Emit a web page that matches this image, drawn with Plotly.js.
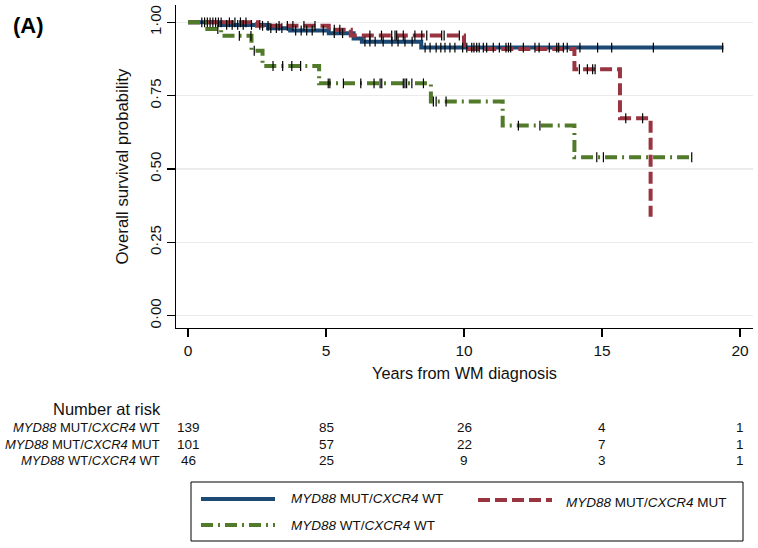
<!DOCTYPE html>
<html>
<head>
<meta charset="utf-8">
<script src="https://cdn.plot.ly/plotly-3.0.1.min.js"></script>
<style>
  html, body { margin: 0; padding: 0; background: #ffffff; }
  #chart { width: 758px; height: 548px; }
</style>
</head>
<body>
<div id="chart"></div>
<script>
// ---------------- data ----------------
const seriesNames = [
  "<i>MYD88</i> MUT/<i>CXCR4</i> WT",
  "<i>MYD88</i> MUT/<i>CXCR4</i> MUT",
  "<i>MYD88</i> WT/<i>CXCR4</i> WT"
];

// Kaplan-Meier step curves (time in years, survival probability)
const mutWtTimes = [0, 1.2, 2.9, 3.7, 5.1, 6.0, 6.3, 8.45, 19.4];
const mutWtSurv  = [1, 0.991, 0.98, 0.972, 0.963, 0.945, 0.934, 0.914, 0.914];
const mutWtCens  = [0.5, 0.7, 0.9, 1.1, 1.4, 1.6, 1.8, 2.0, 2.3, 2.6, 3.0, 3.2, 3.4, 3.9, 4.1, 4.3, 4.5, 4.9, 5.3, 5.6,
                    6.41, 6.59, 6.78, 7.07, 7.39, 7.61, 7.86, 8.12,
                    8.59, 8.77, 8.99, 9.16, 9.31, 9.49, 9.67, 9.95, 10.10, 10.28, 10.36, 10.46, 10.55, 10.70, 10.82,
                    11.06, 11.28, 11.52, 11.61, 11.69, 12.15, 12.57, 12.72, 13.09, 13.36, 13.43, 13.60, 13.74,
                    14.20, 14.84, 15.35, 16.86, 19.37];

const mutMutTimes = [0, 2.5, 5.1, 5.9, 10.0, 14.0, 15.65, 16.76];
const mutMutSurv  = [1, 0.988, 0.975, 0.955, 0.909, 0.84, 0.673, 0.337];
const mutMutCens  = [0.6, 0.8, 1.0, 1.2, 1.5, 1.7, 1.9, 2.1, 2.7, 2.9, 3.3, 3.6, 3.8, 4.2, 4.6, 5.3, 5.5,
                     6.59, 7.01, 7.38, 7.5, 7.56, 7.80, 8.22, 8.47, 8.65, 9.19, 9.28, 9.83,
                     14.18, 14.47, 14.66, 14.75, 15.86, 16.47];

const wtWtTimes = [0, 0.7, 1.2, 2.3, 2.7, 4.75, 8.8, 11.4, 14.0, 18.3];
const wtWtSurv  = [1, 0.977, 0.954, 0.903, 0.851, 0.792, 0.730, 0.648, 0.54, 0.54];
const wtWtCens  = [1.08, 1.86, 2.28, 2.4, 3.08, 3.43, 3.76, 4.08, 5.08, 5.14, 5.63, 6.26, 6.74, 6.96, 7.02,
                   7.80, 7.86, 7.92, 8.11, 8.53, 8.89, 8.99, 9.35, 11.97, 12.75, 14.81, 15.05, 18.25];

// Number at risk table
const riskYears  = [0, 5, 10, 15, 20];
const riskMutWt  = [139, 85, 26, 4, 1];
const riskMutMut = [101, 57, 22, 7, 1];
const riskWtWt   = [46, 25, 9, 3, 1];

// Axis ticks
const yTickVals = [0, 0.25, 0.5, 0.75, 1];
const yTickText = ["0·00", "0·25", "0·50", "0·75", "1·00"];
const xTickVals = [0, 5, 10, 15, 20];

// ---------------- styling ----------------
const colors = ["#1d4a74", "#983540", "#527a2b"];
const dashes = ["solid", "12px,5px", "12px,5px,2px,5px"];
const FONT = "'Liberation Sans', Arial, sans-serif";
const TXT = "#111111";

const W = 758, H = 548;
const M = { l: 176, r: 5, t: 5, b: 220 };
const PW = W - M.l - M.r, PH = H - M.t - M.b;
const pxX = p => (p - M.l) / PW;          // pixel x -> paper
const pxY = p => (H - M.b - p) / PH;      // pixel y -> paper

function stepAt(times, surv, t) {
  let v = surv[0];
  for (let i = 0; i < times.length; i++) { if (times[i] <= t) v = surv[i]; }
  return v;
}

const groups = [
  { t: mutWtTimes, s: mutWtSurv, c: mutWtCens },
  { t: mutMutTimes, s: mutMutSurv, c: mutMutCens },
  { t: wtWtTimes, s: wtWtSurv, c: wtWtCens }
];

const traces = [];
groups.forEach((g, i) => {
  traces.push({
    type: "scatter", mode: "lines", x: g.t, y: g.s, name: seriesNames[i],
    line: { shape: "hv", color: colors[i], width: 4, dash: dashes[i] },
    hoverinfo: "skip", showlegend: false
  });
});
groups.forEach((g, i) => {
  traces.push({
    type: "scatter", mode: "markers", x: g.c, y: g.c.map(t => stepAt(g.t, g.s, t)),
    marker: { symbol: "line-ns", size: 7, color: "#000000", line: { color: "#000000", width: 1.2 } },
    hoverinfo: "skip", showlegend: false
  });
});

// ---------------- annotations ----------------
const annotations = [];
annotations.push({
  xref: "paper", yref: "paper", x: pxX(28), y: pxY(25), xanchor: "center", yanchor: "middle",
  text: "<b>(A)</b>", showarrow: false, font: { family: FONT, size: 22, color: "#000" }
});
annotations.push({
  xref: "paper", yref: "paper", x: pxX(163), y: pxY(409), xanchor: "right", yanchor: "middle",
  text: "Number at risk", showarrow: false, font: { family: FONT, size: 16.5, color: TXT }
});
const riskRows = [riskMutWt, riskMutMut, riskWtWt];
const rowY = [427, 444, 461];
riskRows.forEach((row, r) => {
  annotations.push({
    xref: "paper", yref: "paper", x: pxX(162), y: pxY(rowY[r]), xanchor: "right", yanchor: "middle",
    text: seriesNames[r], showarrow: false, font: { family: FONT, size: 13, color: TXT }
  });
  row.forEach((n, j) => {
    annotations.push({
      xref: "x", yref: "paper", x: riskYears[j], y: pxY(rowY[r]), xanchor: "center", yanchor: "middle",
      text: String(n), showarrow: false, font: { family: FONT, size: 13.5, color: TXT }
    });
  });
});

// legend (drawn manually)
const legendItems = [
  { x0: 201, x1: 275, y: 499, tx: 289, ty: 499 },
  { x0: 478, x1: 552, y: 500, tx: 564, ty: 502 },
  { x0: 201, x1: 275, y: 525, tx: 289, ty: 525 }
];
const shapes = [{
  type: "rect", xref: "paper", yref: "paper",
  x0: pxX(191), x1: pxX(743), y0: pxY(541), y1: pxY(482),
  line: { color: "#000", width: 1 }, fillcolor: "rgba(0,0,0,0)"
}];
legendItems.forEach((it, i) => {
  shapes.push({
    type: "line", xref: "paper", yref: "paper",
    x0: pxX(it.x0), x1: pxX(it.x1), y0: pxY(it.y), y1: pxY(it.y),
    line: { color: colors[i], width: 4, dash: dashes[i] }
  });
  annotations.push({
    xref: "paper", yref: "paper", x: pxX(it.tx), y: pxY(it.ty), xanchor: "left", yanchor: "middle",
    text: seriesNames[i], showarrow: false, font: { family: FONT, size: 13.5, color: TXT }
  });
});

const layout = {
  width: W, height: H, margin: M,
  paper_bgcolor: "#ffffff", plot_bgcolor: "#ffffff",
  font: { family: FONT, size: 15, color: TXT },
  showlegend: false,
  xaxis: {
    range: [-0.435, 20.47], tickvals: xTickVals, ticktext: xTickVals.map(String),
    showgrid: false, zeroline: false, showline: true, linecolor: "#000", linewidth: 1.3,
    ticks: "outside", ticklen: 8, tickwidth: 1.3, tickcolor: "#000",
    tickfont: { family: FONT, size: 15.5, color: TXT },
    title: { text: "Years from WM diagnosis", font: { family: FONT, size: 16.3, color: TXT }, standoff: 9 }
  },
  yaxis: {
    range: [-0.042, 1.059], tickvals: yTickVals, ticktext: yTickText, tickangle: -90,
    showgrid: true, gridcolor: "#ebebeb", gridwidth: 1.5, zeroline: false,
    showline: true, linecolor: "#000", linewidth: 1.3,
    ticks: "outside", ticklen: 8, tickwidth: 1.3, tickcolor: "#000",
    tickfont: { family: FONT, size: 15, color: TXT },
    title: { text: "Overall survival probability", font: { family: FONT, size: 16.8, color: TXT }, standoff: 13 }
  },
  annotations: annotations,
  shapes: shapes
};

Plotly.newPlot("chart", traces, layout, { displayModeBar: false, staticPlot: true });
</script>
</body>
</html>
